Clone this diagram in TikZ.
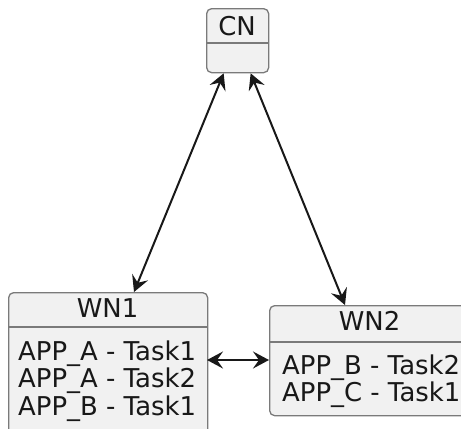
\documentclass[tikz,border=0pt]{standalone}
\usepackage{fontspec}
\setmainfont{DejaVu Sans}
\usetikzlibrary{arrows.meta,calc}
\definecolor{boxfill}{HTML}{F1F1F1}
\definecolor{boxline}{HTML}{7A7A7A}
\definecolor{ink}{HTML}{181818}
\tikzset{
  objbox/.style={draw=boxline, fill=boxfill, line width=1.3bp, rounded corners=5bp,
    rectangle, anchor=north west, inner sep=0pt},
  sepline/.style={draw=boxline, line width=1.3bp},
  title/.style={anchor=base, inner sep=0pt, font=\fontsize{26}{26}\selectfont, text=ink},
  item/.style={anchor=base west, inner sep=0pt, font=\fontsize{26}{26}\selectfont, text=ink},
  link/.style={draw=ink, line width=2bp,
    {Stealth[length=16bp,width=17bp,inset=6bp]}-{Stealth[length=16bp,width=17bp,inset=6bp]}}
}
\begin{document}
\begin{tikzpicture}[x=1bp,y=-1bp]
\path[use as bounding box] (0,0) rectangle (461,428);
\clip (0,0) rectangle (461,428);

% central node
\node[objbox, minimum width=62bp, minimum height=64bp] (cn) at (206,8) {};
\path[sepline] (206,43) -- (268,43);
\node[title] (cntitle) at (237,35) {CN};

% worker node 1
\node[objbox, minimum width=199bp, minimum height=150bp] (wn1) at (8,292) {};
\path[sepline] (8,327) -- (207,327);
\node[title] (wn1title) at (107.5,317) {WN1};
\node[item] (wn1a) at (18,360) {APP\_A - Task1};
\node[item] (wn1b) at (18,387.5) {APP\_A - Task2};
\node[item] (wn1c) at (18,415) {APP\_B - Task1};

% worker node 2
\node[objbox, minimum width=201bp, minimum height=110bp] (wn2) at (269,305) {};
\path[sepline] (269,342) -- (470,342);
\node[title] (wn2title) at (369.5,330) {WN2};
\node[item] (wn2a) at (282,374) {APP\_B - Task2};
\node[item] (wn2b) at (282,401.5) {APP\_C - Task1};

% attachment points of the links
\coordinate (cnL) at ($(cn.south)+(-14,0)$);
\coordinate (cnR) at ($(cn.south)+(13,0)$);
\coordinate (wn1T) at (134,292);
\coordinate (wn2T) at (345,305);
\coordinate (wn1E) at (207,360);
\coordinate (wn2W) at (269,360);

\draw[link] (cnL) -- (wn1T);
\draw[link] (cnR) -- (wn2T);
\draw[link] (wn1E) -- (wn2W);
\end{tikzpicture}
\end{document}
